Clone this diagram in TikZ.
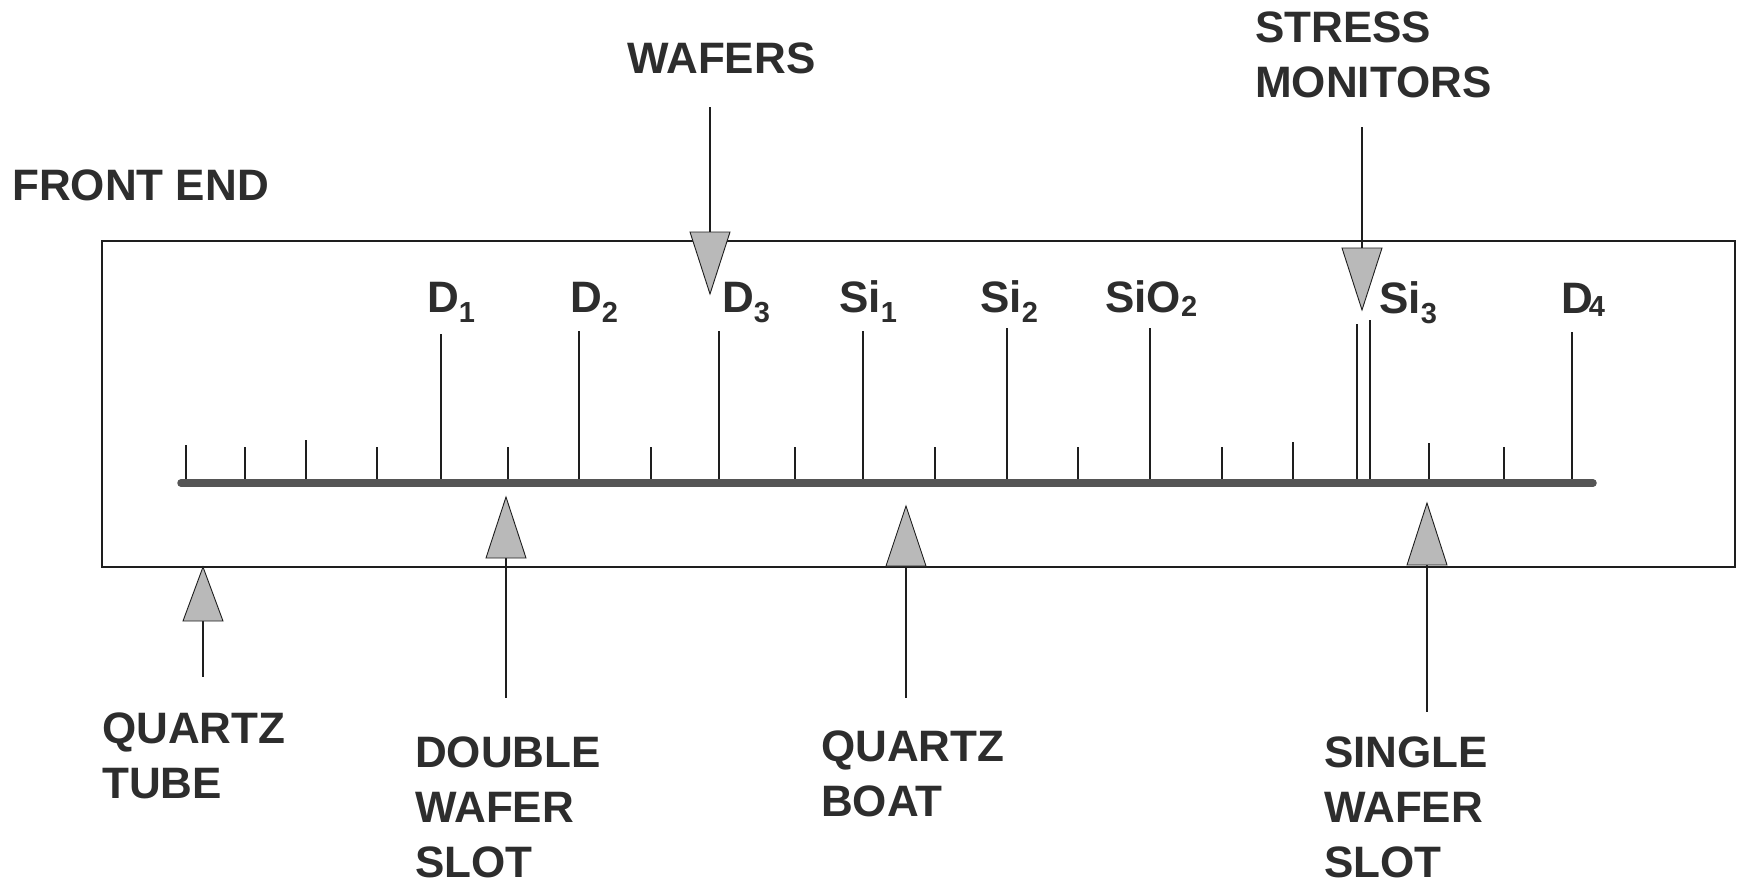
\documentclass[tikz,border=0pt]{standalone}
\usepackage{fontspec}
\setmainfont{Liberation Sans}
\definecolor{txt}{RGB}{45,45,45}
\definecolor{trifill}{RGB}{185,185,185}
\definecolor{rodcol}{RGB}{85,85,85}
\definecolor{ink}{RGB}{30,30,30}
\newcommand\lowsub[2][10]{\raisebox{-#1pt}{\fontsize{29}{29}\selectfont #2}}
\begin{document}
\begin{tikzpicture}[x=1pt,y=-1pt,
  lab/.style={inner sep=0pt, text=txt, font=\bfseries\fontsize{44}{55}\selectfont},
  mlab/.style={lab, align=left, anchor=north west},
  slab/.style={lab, anchor=base west},
  tri/.style={draw=ink, fill=trifill, line width=0.9pt, line join=miter},
  lead/.style={draw=ink, line width=1.1pt},
  tickthick/.style={draw=ink, line width=2.8pt},
  tickthin/.style={draw=ink, line width=1.1pt},
  tube/.style={draw=ink, line width=2pt},
  rod/.style={draw=rodcol, line width=7.5pt, line cap=round},
]
\useasboundingbox (0,0) rectangle (1739,884);

% quartz tube outline
\draw[tube] (102,241) rectangle (1735,567);

% ticks
\foreach \x in {245,377,508,651,795,935,1078,1222,1504}
  \draw[tickthick] (\x,483) -- (\x,447);
\foreach \x/\t in {186/445,306/440,1293/442,1429/443}
  \draw[tickthin] (\x,483) -- (\x,\t);
\foreach \x/\t in {441/334,579/331,719/331,863/331,1007/328,1150/328,1357/324,1370/320,1572/332}
  \draw[tickthin] (\x,483) -- (\x,\t);

% quartz boat rod
\coordinate (rodL) at (181,483);
\coordinate (rodR) at (1593,483);
\draw[rod] (rodL) -- (rodR);

% position labels
\node[slab] (d1) at (427,312) {D\lowsub{1}};
\node[slab] (d2) at (570,312) {D\lowsub{2}};
\node[slab] (d3) at (722,312) {D\lowsub{3}};
\node[slab] (si1) at (839,312) {Si\lowsub{1}};
\node[slab] (si2) at (980,312) {Si\lowsub{2}};
\node[slab] (sio2) at (1105,312) {SiO\lowsub[4]{2}};
\node[slab] (si3) at (1379,313) {Si\lowsub{3}};
\node[slab] (d4) at (1561,313) {D\kern-4pt\lowsub[3]{4}};

% text labels
\node[slab] (front) at (12,200) {FRONT END};
\node[slab] (wafers) at (627,73) {WAFERS};
\node[mlab] (stress) at (1255,12) {STRESS\\MONITORS};
\node[mlab] (qtube) at (102,713) {QUARTZ\\TUBE};
\node[mlab] (dws) at (415,737) {DOUBLE\\WAFER\\SLOT};
\node[mlab] (qboat) at (821,731) {QUARTZ\\BOAT};
\node[mlab] (sws) at (1324,737) {SINGLE\\WAFER\\SLOT};

% top arrows (pointing down)
\coordinate (wTop) at (710,107);
\coordinate (wTri) at (710,232);
\draw[lead] (wTop) -- (wTri);
\draw[tri] (690,232) -- (730,232) -- (710,294) -- cycle;

\coordinate (sTop) at (1362,127);
\coordinate (sTri) at (1362,248);
\draw[lead] (sTop) -- (sTri);
\draw[tri] (1342,248) -- (1382,248) -- (1362,310) -- cycle;

% bottom arrows (pointing up)
\coordinate (tBase) at (203,621);
\coordinate (tEnd) at (203,677);
\draw[lead] (tBase) -- (tEnd);
\draw[tri] (183,621) -- (223,621) -- (203,567) -- cycle;

\coordinate (dBase) at (506,558);
\coordinate (dEnd) at (506,698);
\draw[lead] (dBase) -- (dEnd);
\draw[tri] (486,558) -- (526,558) -- (506,497) -- cycle;

\coordinate (bBase) at (906,566);
\coordinate (bEnd) at (906,698);
\draw[lead] (bBase) -- (bEnd);
\draw[tri] (886,566) -- (926,566) -- (906,506) -- cycle;

\coordinate (gBase) at (1427,565);
\coordinate (gEnd) at (1427,712);
\draw[lead] (gBase) -- (gEnd);
\draw[tri] (1407,565) -- (1447,565) -- (1427,503) -- cycle;
\end{tikzpicture}
\end{document}
